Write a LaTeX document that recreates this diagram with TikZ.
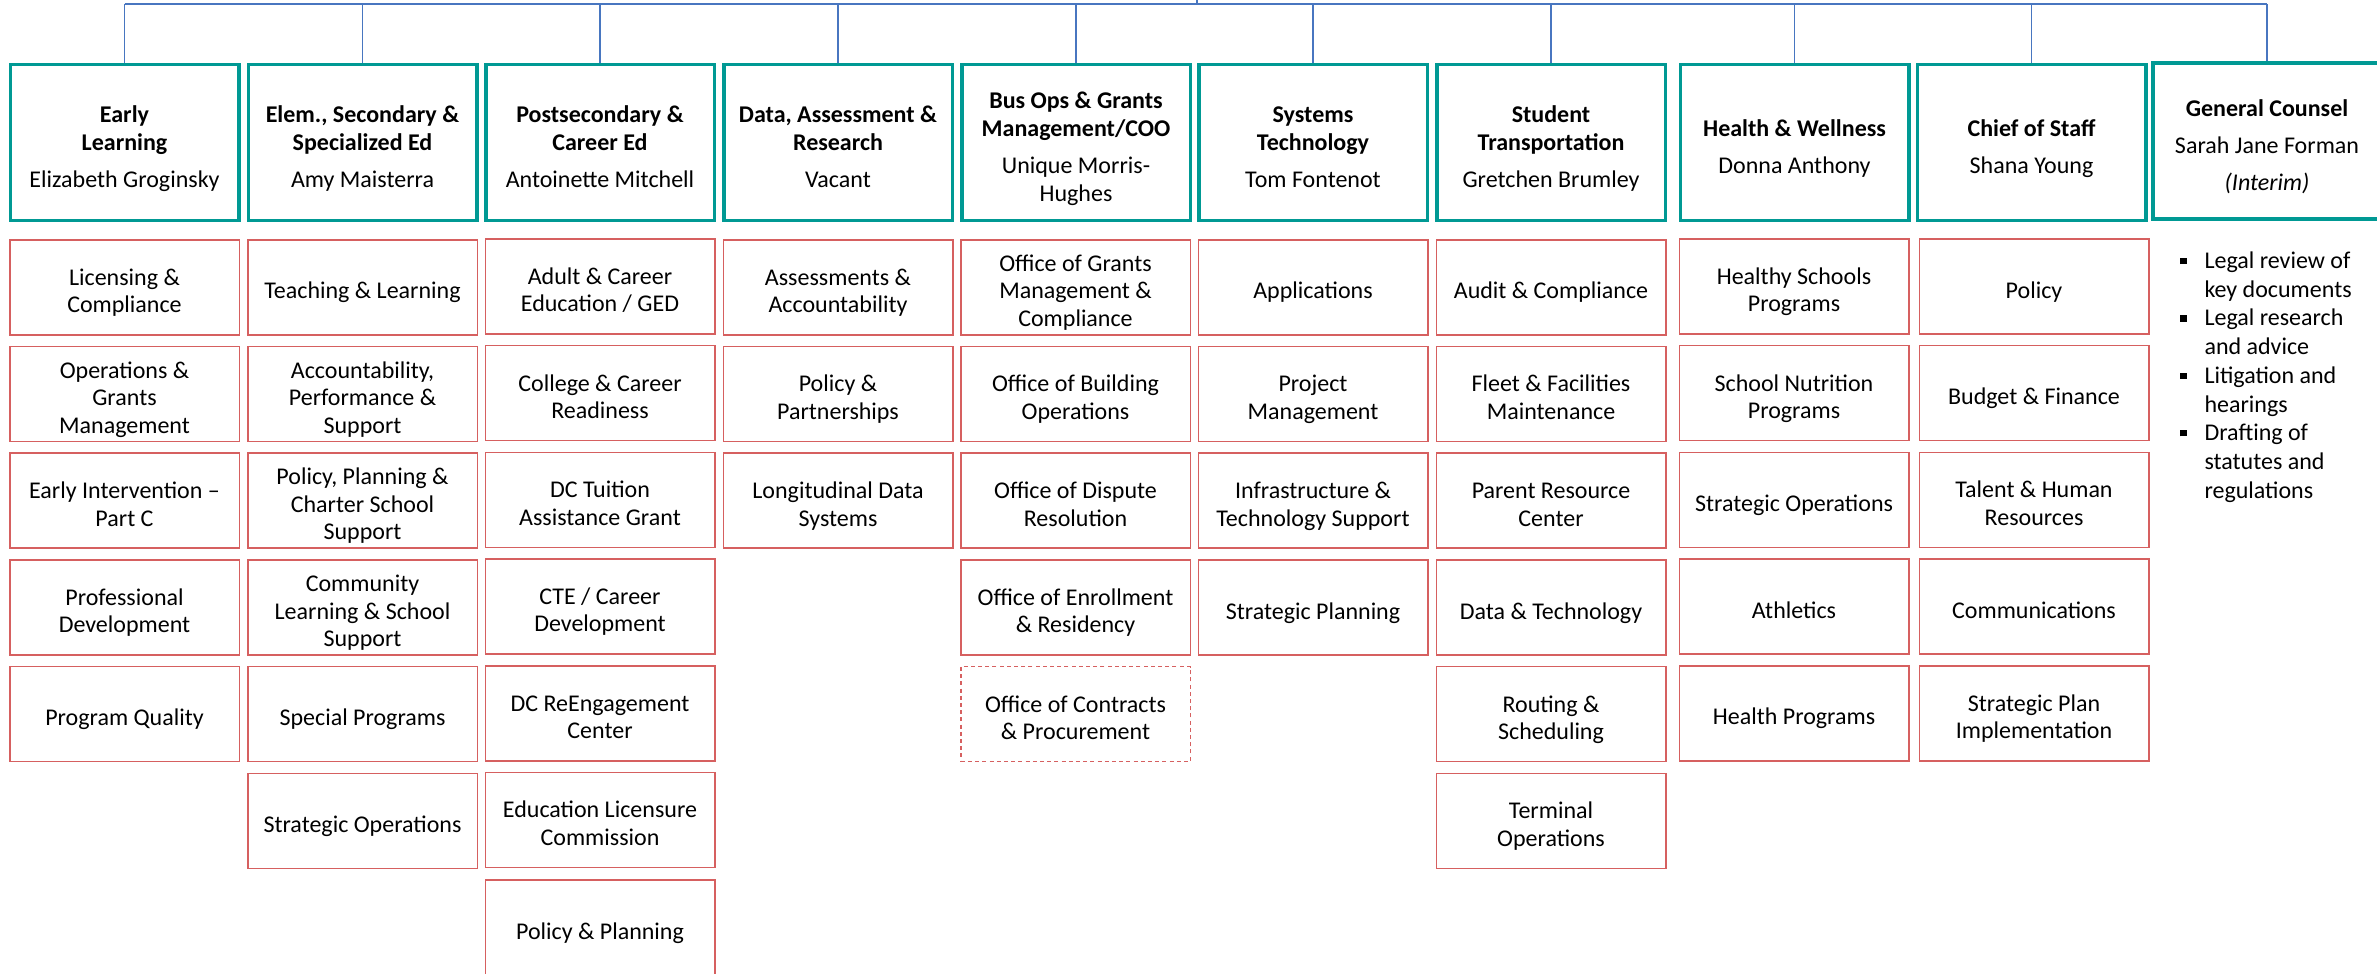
\documentclass[tikz,border=0pt]{standalone}
\usepackage{fontspec}
\setmainfont{Carlito}
\definecolor{hdteal}{RGB}{0,153,148}
\definecolor{subred}{RGB}{214,96,96}
\definecolor{lnblue}{RGB}{72,118,192}
\newcommand{\sqbul}{\rule[0.18em]{0.27em}{0.27em}}
\newcommand{\lw}[1]{\raisebox{-3.1pt}[\height][\depth]{\begin{tabular}{@{}c@{}}#1\end{tabular}}}
\newcommand{\hw}[1]{\raisebox{-3.4pt}[\height][\depth]{\begin{tabular}{@{}c@{}}#1\end{tabular}}}
\tikzset{
  hd/.style={draw=hdteal, line width=1.75pt, minimum width=114.25pt, minimum height=77.75pt,
    inner sep=0pt, font=\fontsize{12}{14.2}\selectfont},
  sub/.style={draw=subred, line width=0.75pt, minimum width=114.75pt, minimum height=47.5pt,
    inner sep=0pt, font=\fontsize{12}{13.7}\selectfont},
  busline/.style={draw=lnblue, line width=1pt},
  conn/.style={draw=lnblue, line width=0.6pt},
}
\begin{document}
\begin{tikzpicture}[x=0.5pt,y=-0.5pt]
\useasboundingbox (0,0) rectangle (2377,974);
% headers
\node[hd] (h1) at (124.5,142.5) {\hw{\textbf{Early}\\\textbf{Learning}\\[4.25pt]Elizabeth Groginsky}};
\node[hd] (h2) at (362.5,142.5) {\hw{\textbf{Elem., Secondary \&}\\\textbf{Specialized Ed}\\[4.25pt]Amy Maisterra}};
\node[hd] (h3) at (600,142.5) {\hw{\textbf{Postsecondary \&}\\\textbf{Career Ed}\\[4.25pt]Antoinette Mitchell}};
\node[hd] (h4) at (838,142.5) {\hw{\textbf{Data, Assessment \&}\\\textbf{Research}\\[4.25pt]Vacant}};
\node[hd] (h5) at (1076,142.5) {\hw{\textbf{Bus Ops \& Grants}\\\textbf{Management/COO}\\[4.25pt]Unique Morris-\\Hughes}};
\node[hd] (h6) at (1313,142.5) {\hw{\textbf{Systems}\\\textbf{Technology}\\[4.25pt]Tom Fontenot}};
\node[hd] (h7) at (1551,142.5) {\hw{\textbf{Student}\\\textbf{Transportation}\\[4.25pt]Gretchen Brumley}};
\node[hd] (h8) at (1794.5,142.5) {\hw{\textbf{Health \& Wellness}\\[4.25pt]Donna Anthony}};
\node[hd] (h9) at (2031.5,142.5) {\hw{\textbf{Chief of Staff}\\[4.25pt]Shana Young}};
\node[hd] (h10) at (2267,141) {\hw{\textbf{General Counsel}\\[4.25pt]Sarah Jane Forman\\[4.25pt]\textit{(Interim)}}};
% connectors
\coordinate (ceo) at (1197,0);
\coordinate (bus) at (1197,4);
\draw[busline] (h1.north |- bus) -- (h10.north |- bus);
\draw[conn] (ceo) -- (bus);
\foreach \h in {h1,h2,h3,h4,h5,h6,h7,h8,h9,h10}
  \draw[conn] (\h.north |- bus) -- (\h.north);
% column 1
\node[sub] (a1) at (124.5,287.25) {\lw{Licensing \&\\Compliance}};
\node[sub] (a2) at (124.5,393.95) {\lw{Operations \&\\Grants\\Management}};
\node[sub] (a3) at (124.5,500.65) {\lw{Early Intervention --\\Part C}};
\node[sub] (a4) at (124.5,607.35) {\lw{Professional\\Development}};
\node[sub] (a5) at (124.5,714.05) {\lw{Program Quality}};
% column 2
\node[sub] (b1) at (362.5,287.25) {\lw{Teaching \& Learning}};
\node[sub] (b2) at (362.5,393.95) {\lw{Accountability,\\Performance \&\\Support}};
\node[sub] (b3) at (362.5,500.65) {\lw{Policy, Planning \&\\Charter School\\Support}};
\node[sub] (b4) at (362.5,607.35) {\lw{Community\\Learning \& School\\Support}};
\node[sub] (b5) at (362.5,714.05) {\lw{Special Programs}};
\node[sub] (b6) at (362.5,820.75) {\lw{Strategic Operations}};
% column 3
\node[sub] (c1) at (600,286.5) {\lw{Adult \& Career\\Education / GED}};
\node[sub] (c2) at (600,393.2) {\lw{College \& Career\\Readiness}};
\node[sub] (c3) at (600,499.9) {\lw{DC Tuition\\Assistance Grant}};
\node[sub] (c4) at (600,606.6) {\lw{CTE / Career\\Development}};
\node[sub] (c5) at (600,713.3) {\lw{DC ReEngagement\\Center}};
\node[sub] (c6) at (600,820) {\lw{Education Licensure\\Commission}};
\node[sub] (c7) at (600,927.45) {\lw{Policy \& Planning}};
% column 4
\node[sub] (d1) at (838,287.25) {\lw{Assessments \&\\Accountability}};
\node[sub] (d2) at (838,393.95) {\lw{Policy \&\\Partnerships}};
\node[sub] (d3) at (838,500.65) {\lw{Longitudinal Data\\Systems}};
% column 5
\node[sub] (e1) at (1075.5,287.25) {\lw{Office of Grants\\Management \&\\Compliance}};
\node[sub] (e2) at (1075.5,393.95) {\lw{Office of Building\\Operations}};
\node[sub] (e3) at (1075.5,500.65) {\lw{Office of Dispute\\Resolution}};
\node[sub] (e4) at (1075.5,607.35) {\lw{Office of Enrollment\\\& Residency}};
\node[sub, dash pattern=on 2pt off 1.6pt] (e5) at (1075.5,714.05) {\lw{Office of Contracts\\\& Procurement}};
% column 6
\node[sub] (f1) at (1313,287.25) {\lw{Applications}};
\node[sub] (f2) at (1313,393.95) {\lw{Project\\Management}};
\node[sub] (f3) at (1313,500.65) {\lw{Infrastructure \&\\Technology Support}};
\node[sub] (f4) at (1313,607.35) {\lw{Strategic Planning}};
% column 7
\node[sub] (g1) at (1551,287.25) {\lw{Audit \& Compliance}};
\node[sub] (g2) at (1551,393.95) {\lw{Fleet \& Facilities\\Maintenance}};
\node[sub] (g3) at (1551,500.65) {\lw{Parent Resource\\Center}};
\node[sub] (g4) at (1551,607.35) {\lw{Data \& Technology}};
\node[sub] (g5) at (1551,714.05) {\lw{Routing \&\\Scheduling}};
\node[sub] (g6) at (1551,820.75) {\lw{Terminal\\Operations}};
% column 8
\node[sub] (k1) at (1794,286.5) {\lw{Healthy Schools\\Programs}};
\node[sub] (k2) at (1794,393.2) {\lw{School Nutrition\\Programs}};
\node[sub] (k3) at (1794,499.9) {\lw{Strategic Operations}};
\node[sub] (k4) at (1794,606.6) {\lw{Athletics}};
\node[sub] (k5) at (1794,713.3) {\lw{Health Programs}};
% column 9
\node[sub] (m1) at (2034,286.5) {\lw{Policy}};
\node[sub] (m2) at (2034,393.2) {\lw{Budget \& Finance}};
\node[sub] (m3) at (2034,499.9) {\lw{Talent \& Human\\Resources}};
\node[sub] (m4) at (2034,606.6) {\lw{Communications}};
\node[sub] (m5) at (2034,713.3) {\lw{Strategic Plan\\Implementation}};
% general counsel duties
\node[anchor=base west, inner sep=0pt, font=\fontsize{12}{14.35}\selectfont] (gc) at (2180,268.5) {%
  \begin{tabular}[t]{@{}l@{\hspace{8.8pt}}l@{}}
  \sqbul & Legal review of\\
         & key documents\\
  \sqbul & Legal research\\
         & and advice\\
  \sqbul & Litigation and\\
         & hearings\\
  \sqbul & Drafting of\\
         & statutes and\\
         & regulations
  \end{tabular}};
\end{tikzpicture}
\end{document}
